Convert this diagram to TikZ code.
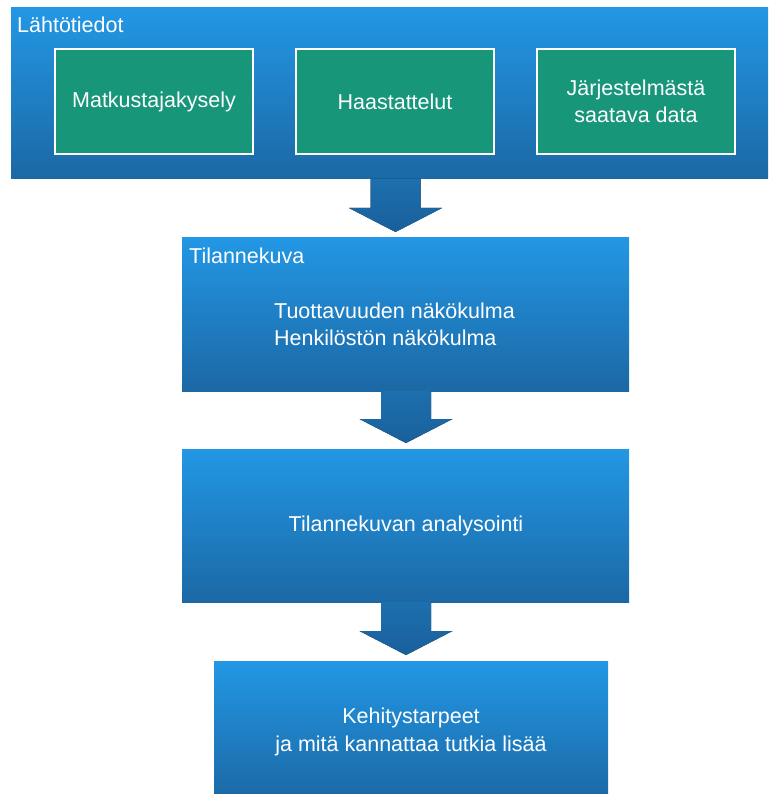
\documentclass[tikz,border=0pt]{standalone}
\usepackage{fontspec}
\setmainfont{Liberation Sans}
\usetikzlibrary{calc}
\definecolor{boxtop}{HTML}{2397E5}
\definecolor{boxbot}{HTML}{1B68A4}
\definecolor{tealbox}{HTML}{17967A}
\definecolor{arrtop}{HTML}{1D6FAE}
\definecolor{arrbot}{HTML}{19609C}
\begin{document}
\begin{tikzpicture}[x=1pt,y=-1pt,
  bluebox/.style={rectangle, anchor=north west, inner sep=0pt, outer sep=0pt, draw=none, top color=boxtop, bottom color=boxbot},
  greenbox/.style={rectangle, anchor=north west, inner sep=0pt, outer sep=0pt, fill=tealbox, draw=white, line width=2pt, minimum width=198pt, minimum height=105pt},
  txt/.style={text=white, inner sep=0pt, font=\fontsize{21.5}{27.5}\selectfont},
  arrowshade/.style={top color=arrtop, bottom color=arrbot, draw=none}]
\useasboundingbox (0,0) rectangle (768,794);
% boxes
\node[bluebox, minimum width=757pt, minimum height=171pt] (src) at (11,8) {};
\node[greenbox] (g1) at (55,49) {};
\node[greenbox] (g2) at (296,49) {};
\node[greenbox] (g3) at (537,49) {};
\node[bluebox, minimum width=447pt, minimum height=154pt] (tk) at (182,237) {};
\node[bluebox, minimum width=447pt, minimum height=153pt] (an) at (182,449) {};
\node[bluebox, minimum width=394pt, minimum height=140pt] (ke) at (214,661) {};
% texts
\node[txt, anchor=base west] (srct) at (17,33) {Lähtötiedot};
\node[txt, align=center] (g1t) at (g1.center) {Matkustajakysely};
\node[txt, align=center] (g2t) at (g2.center) {Haastattelut};
\node[txt, align=center] (g3t) at (g3.center) {Järjestelmästä\\saatava data};
\node[txt, anchor=base west] (tkt) at (189,263) {Tilannekuva};
\node[txt, anchor=base west] (tk1) at (274,318) {Tuottavuuden näkökulma};
\node[txt, anchor=base west] (tk2) at (274,345) {Henkilöstön näkökulma};
\node[txt, align=center] (ant) at (406,526) {Tilannekuvan analysointi};
\node[txt, align=center] (ket) at (411,732) {Kehitystarpeet\\ja mitä kannattaa tutkia lisää};
% block arrows
\coordinate (a1s) at (395.5,179);
\coordinate (a1t) at (395.5,232);
\coordinate (a2s) at (406,391);
\coordinate (a2t) at (406,443);
\coordinate (a3s) at (406,602);
\coordinate (a3t) at (406,655);
\foreach \s/\t in {a1s/a1t, a2s/a2t, a3s/a3t}{
  \fill[arrowshade] ($(\s)+(-25,0)$) -- ($(\s)+(25,0)$) -- ($(\t)+(25,-24)$) -- ($(\t)+(46.5,-24)$) -- (\t) -- ($(\t)+(-46.5,-24)$) -- ($(\t)+(-25,-24)$) -- cycle;
}
\end{tikzpicture}
\end{document}
